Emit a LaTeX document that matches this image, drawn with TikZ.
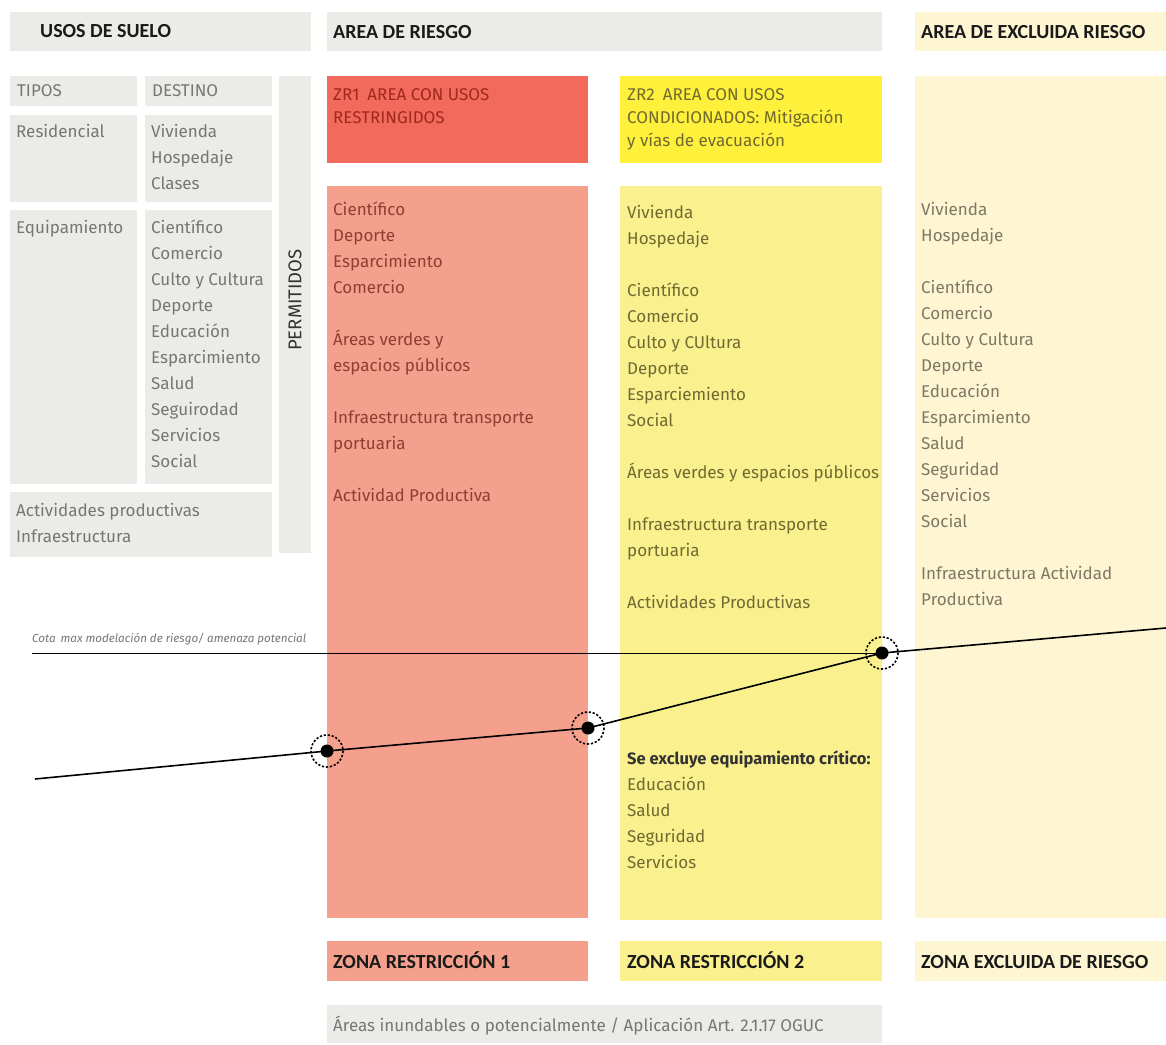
\documentclass[tikz,border=0pt]{standalone}
\usepackage{fontspec}
\setmainfont{Fira Sans}
\newfontfamily\hdfont{Carlito}
\definecolor{boxgrey}{HTML}{EBEBE7}
\definecolor{zrhead}{HTML}{F26A5B}
\definecolor{zrbody}{HTML}{F5A08C}
\definecolor{zyhead}{HTML}{FFF03C}
\definecolor{zybody}{HTML}{FAF08E}
\definecolor{zexcl}{HTML}{FEF6D2}
\definecolor{txgrey}{HTML}{767676}
\definecolor{txred}{HTML}{8E3F33}
\definecolor{txredh}{HTML}{A0281E}
\definecolor{txolive}{HTML}{706A30}
\definecolor{txexcl}{HTML}{7E7764}
\definecolor{txdark}{HTML}{1A1A1A}
\tikzset{
  txt/.style={inner sep=0pt, font=\fontsize{17}{20}\selectfont},
  hd/.style={inner sep=0pt, text=txdark, font=\hdfont\bfseries\fontsize{20}{22}\selectfont, anchor=base west},
  dotring/.style={draw=black, line width=1.6pt, dash pattern=on 2.2pt off 1.8pt},
  dot/.style={circle, fill=black, inner sep=0pt, minimum size=13pt},
  slope/.style={line width=1.6pt, black},
}
\newcommand\tlines[6]{% name, x, baseline0, step, style, list idx/text
  \foreach \kk/\ttx in {#6} {\node[txt,#5,anchor=base west] (#1-\kk) at (#2, #3+#4*\kk) {\ttx};}}
\begin{document}
\begin{tikzpicture}[x=1pt,y=-1pt]
\useasboundingbox (0,0) rectangle (1166,1044);
\fill[white] (0,0) rectangle (1166,1044);
% header row
\fill[boxgrey] (10,12) rectangle (311,51);
\fill[boxgrey] (327,12) rectangle (882,51);
\fill[zexcl] (915,12) rectangle (1166,51);
% left grey table
\fill[boxgrey] (10,76) rectangle (137,106);
\fill[boxgrey] (145,76) rectangle (272,106);
\fill[boxgrey] (279,76) rectangle (311,553);
\fill[boxgrey] (10,115) rectangle (137,202);
\fill[boxgrey] (145,115) rectangle (272,202);
\fill[boxgrey] (10,210) rectangle (137,484);
\fill[boxgrey] (145,210) rectangle (272,484);
\fill[boxgrey] (10,492) rectangle (272,557);
% zone columns
\fill[zrhead] (327,76) rectangle (588,163);
\fill[zrbody] (327,186) rectangle (588,918);
\fill[zyhead] (620,76) rectangle (882,163);
\fill[zybody] (620,186) rectangle (882,920);
\fill[zexcl] (915,76) rectangle (1166,918);
% bottom labels
\fill[zrbody] (327,941) rectangle (588,981);
\fill[zybody] (620,941) rectangle (882,981);
\fill[zexcl] (915,941) rectangle (1166,981);
\fill[boxgrey] (327,1005) rectangle (882,1043);

% headings
\node[hd] (h-usos) at (40,37) {USOS DE SUELO};
\node[hd] (h-riesgo) at (333,38) {AREA DE RIESGO};
\node[hd] (h-excl) at (921,38) {AREA DE EXCLUIDA RIESGO};
\node[hd] (b-zr1) at (333,968) {ZONA RESTRICCIÓN 1};
\node[hd] (b-zr2) at (627,968) {ZONA RESTRICCIÓN 2};
\node[hd] (b-excl) at (921,968) {ZONA EXCLUIDA DE RIESGO};

% left table text
\node[txt,text=txgrey,anchor=base west] (tipos) at (17,96) {TIPOS};
\node[txt,text=txgrey,anchor=base west] (destino) at (152,96) {DESTINO};
\node[txt,text=txgrey,anchor=base west] (resid) at (16,137) {Residencial};
\tlines{resl}{151}{137}{26}{text=txgrey}{0/Vivienda,1/Hospedaje,2/Clases}
\node[txt,text=txgrey,anchor=base west] (equip) at (16,233) {Equipamiento};
\tlines{eql}{151}{233}{26}{text=txgrey}{0/Científico,1/Comercio,2/Culto y Cultura,3/Deporte,4/Educación,5/Esparcimiento,6/Salud,7/Seguirodad,8/Servicios,9/Social}
\tlines{act}{16}{516}{26}{text=txgrey}{0/Actividades productivas,1/Infraestructura}
\node[txt,text=black!80,rotate=90,font=\fontsize{18.5}{20}\selectfont] (perm) at (295,300) {PERMITIDOS};

% ZR1
\tlines{zr1h}{333}{100}{23}{text=txredh}{0/ZR1\hspace{8pt}AREA CON USOS,1/RESTRINGIDOS}
\tlines{zr1}{333}{215}{26}{text=txred}{0/Científico,1/Deporte,2/Esparcimiento,3/Comercio,5/Áreas verdes y,6/espacios públicos,8/Infraestructura transporte,9/portuaria,11/Actividad Productiva}

% ZR2
\tlines{zr2h}{627}{100}{23}{text=txolive}{0/ZR2\hspace{8pt}AREA CON USOS,1/CONDICIONADOS: Mitigación,2/y vías de evacuación}
\tlines{zr2}{627}{218}{26}{text=txolive}{0/Vivienda,1/Hospedaje,3/Científico,4/Comercio,5/Culto y CUltura,6/Deporte,7/Esparciemiento,8/Social,10/Áreas verdes y espacios públicos,12/Infraestructura transporte,13/portuaria,15/Actividades Productivas}
\node[txt,text=black!80,anchor=base west,font=\bfseries\fontsize{16.5}{20}\selectfont] (crit) at (627,764) {Se excluye equipamiento crítico:};
\tlines{zr2c}{627}{790}{26}{text=txolive}{0/Educación,1/Salud,2/Seguridad,3/Servicios}

% excluded
\tlines{ex}{921}{215}{26}{text=txexcl}{0/Vivienda,1/Hospedaje,3/Científico,4/Comercio,5/Culto y Cultura,6/Deporte,7/Educación,8/Esparcimiento,9/Salud,10/Seguridad,11/Servicios,12/Social,14/Infraestructura Actividad,15/Productiva}

% bottom note
\node[txt,text=txgrey,anchor=base west] (note) at (333,1031) {Áreas inundables o potencialmente / Aplicación Art. 2.1.17 OGUC};

% cota line
\node[txt,text=txgrey,anchor=base west,font=\itshape\fontsize{11.6}{13}\selectfont] (cota) at (32,642) {Cota\hspace{5pt}max modelación de riesgo/ amenaza potencial};
\coordinate (c0) at (32,653);
\coordinate (s0) at (35,779);
\coordinate (p1) at (327,751);
\coordinate (p2) at (588,728);
\coordinate (p3) at (882,653);
\coordinate (s4) at (1166,628);
\draw[line width=1pt] (c0) -- (p3);
\draw[slope] (s0) -- (p1) -- (p2) -- (p3) -- (s4);
\foreach \pp in {p1,p2,p3} {
  \draw[dotring] (\pp) circle (16);
  \node[dot] (d-\pp) at (\pp) {};
}
\end{tikzpicture}
\end{document}
